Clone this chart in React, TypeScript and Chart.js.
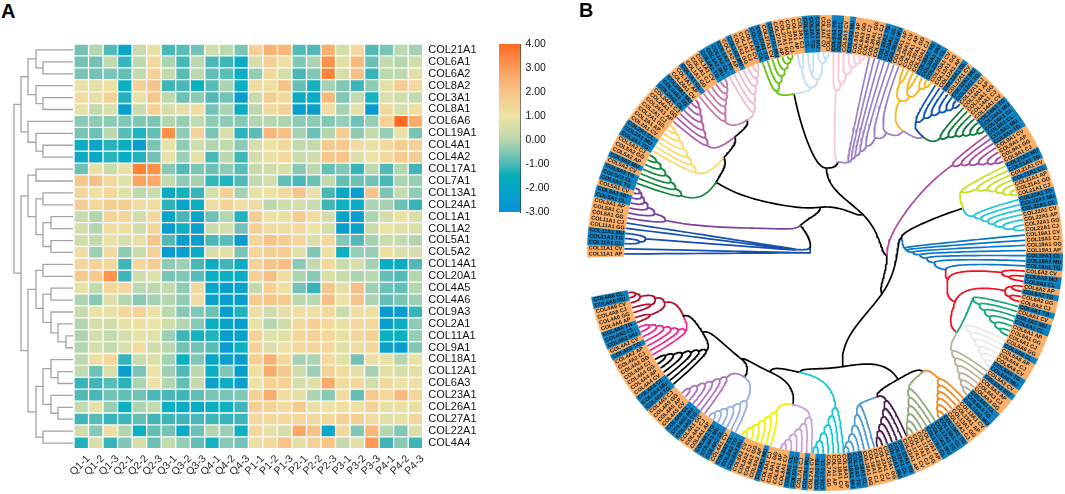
import React, { useEffect, useRef } from "react";
import { Chart, registerables } from "chart.js";
Chart.register(...registerables);

const FONT = "'Liberation Sans', Arial, sans-serif";
const samples = ["Q1-1","Q1-2","Q1-3","Q2-1","Q2-2","Q2-3","Q3-1","Q3-2","Q3-3","Q4-1","Q4-2","Q4-3","P1-1","P1-2","P1-3","P2-1","P2-2","P2-3","P3-1","P3-2","P3-3","P4-1","P4-2","P4-3"];
const genes = ["COL21A1","COL6A1","COL6A2","COL8A2","COL3A1","COL8A1","COL6A6","COL19A1","COL4A1","COL4A2","COL17A1","COL7A1","COL13A1","COL24A1","COL1A1","COL1A2","COL5A1","COL5A2","COL14A1","COL20A1","COL4A5","COL4A6","COL9A3","COL2A1","COL11A1","COL9A1","COL18A1","COL12A1","COL6A3","COL23A1","COL26A1","COL27A1","COL22A1","COL4A4"];

const qValues = [
[-1.2,-0.3,-1.6,-2.6,0.0,0.6,-1.7,-1.5,-1.2,0.1,-0.2,-1.1],
[-1.2,-1.2,-0.1,-1.9,-0.2,1.2,-0.4,-1.7,-0.2,-1.7,-1.8,-2.5],
[-1.1,-1.2,-1.1,-1.4,-0.1,1.4,-0.1,-1.5,-0.2,-1.4,-1.5,-2.4],
[0.6,0.5,0.8,-2.3,1.4,1.9,-1.8,-1.7,-2.3,-1.5,-0.4,-2.3],
[1.0,0.6,1.4,-2.1,0.6,1.8,-0.2,-1.3,-0.8,-1.6,-1.2,-2.9],
[0.6,-0.1,0.3,-2.9,0.0,1.5,0.2,0.5,1.0,-1.2,-0.4,-2.4],
[-0.9,-0.8,-0.8,-1.0,-1.0,-1.1,-0.3,-0.7,-0.1,-0.8,-0.8,-0.9],
[-1.1,-1.3,-0.2,-1.5,-2.1,-1.4,3.2,-0.8,1.4,-1.1,0.3,-2.0],
[-2.4,-2.7,-2.0,-2.4,-2.9,-1.1,0.6,-0.8,0.1,-0.3,-0.1,-0.8],
[-2.5,-2.6,-2.0,-2.5,-2.1,-1.2,0.6,-0.6,0.6,-1.7,-0.2,-1.8],
[-1.3,0.6,0.0,0.6,3.5,3.2,-0.9,-1.6,-1.1,-1.3,-0.8,-1.5],
[1.8,2.0,1.2,0.4,2.8,2.7,-0.1,-0.8,-0.5,-1.9,-2.1,-1.6],
[1.3,0.8,1.3,0.4,-0.2,0.0,-2.5,-2.2,-1.9,0.2,1.4,-0.5],
[1.6,1.3,1.5,1.6,0.9,1.0,-2.0,-2.7,-2.4,1.0,1.4,0.9],
[0.0,-0.3,1.4,1.3,0.1,1.2,-2.7,-1.7,-2.7,-1.3,-0.3,-2.1],
[0.2,-0.3,1.0,0.9,0.1,1.3,-2.9,-2.3,-2.8,0.0,0.2,-1.2],
[0.1,-0.1,0.8,0.2,0.6,1.8,-1.6,-2.9,-2.9,-1.7,-1.5,-2.9],
[0.9,-0.6,1.2,-0.8,0.0,1.4,-3.0,-2.9,-2.5,0.2,0.5,-1.1],
[1.3,1.4,1.3,-1.8,1.3,1.6,-0.8,-0.6,-1.7,-2.4,-1.8,-2.4],
[1.7,1.7,3.1,-1.8,0.1,0.4,-1.1,-1.0,-1.5,-2.4,-2.3,-2.4],
[0.6,-0.1,1.3,1.2,-0.2,-0.2,-0.1,-0.8,1.1,-2.7,-2.9,-2.8],
[-0.4,-0.9,0.3,-0.3,-0.9,-0.5,-0.3,-0.8,1.0,-2.8,-2.9,-2.9],
[0.0,0.7,0.6,1.3,1.4,0.7,-0.2,-0.9,-1.0,-1.3,-2.9,-2.1],
[-0.3,0.2,0.1,0.6,0.8,0.7,0.1,-0.3,-0.9,-2.4,-2.7,-2.9],
[-0.4,0.2,-0.1,0.2,0.6,0.4,-0.6,-1.8,-2.2,-2.1,-2.9,-2.8],
[-0.3,0.2,-0.1,0.3,1.0,0.1,-0.2,-1.2,-1.2,-1.5,-3.0,-2.3],
[-0.2,0.9,1.3,-1.9,0.0,0.3,-0.5,-2.3,-1.0,-2.7,-2.8,-2.9],
[-0.1,-1.3,0.3,-2.9,-1.1,0.7,-0.6,-1.6,-0.2,-2.3,-1.0,-2.9],
[-1.9,-1.8,-1.5,-2.0,-0.4,0.7,-0.3,-1.4,-0.1,-2.8,-2.4,-2.8],
[-1.6,-1.7,-1.2,-1.4,-1.2,-1.7,-1.7,-1.8,-1.4,-1.1,-1.1,-1.0],
[-0.1,0.6,-0.7,-2.3,-0.4,-0.1,-2.3,-2.5,-2.5,-2.4,-2.3,-1.8],
[-1.8,-1.5,-1.9,-1.8,-1.4,-1.8,-1.8,-1.8,-1.7,-1.8,-1.9,-1.8],
[0.1,-0.9,1.0,-0.3,-2.3,-1.4,-1.2,-2.5,-1.3,-0.3,-0.6,-2.3],
[-2.1,0.3,-1.9,-1.0,0.2,-1.3,-0.1,-0.7,-1.4,-2.2,-0.9,-1.2],
];
const pValues = [
[1.5,2.4,2.3,-1.6,-1.6,2.5,0.2,1.2,-1.6,-1.1,-0.2,-0.5],
[0.2,1.5,0.8,-1.0,-0.4,3.2,0.5,2.2,-1.3,-0.1,-0.3,0.1],
[-0.7,1.2,0.2,-1.7,-1.0,3.4,0.2,2.0,-1.9,-0.2,-0.2,0.4],
[1.0,0.9,1.9,-1.4,-2.2,-0.5,-1.0,-1.8,-0.8,0.5,1.6,1.2],
[0.0,1.6,1.1,-2.4,-2.5,2.2,-1.0,-0.1,-2.2,0.3,0.1,-0.1],
[-0.2,1.1,1.4,-2.9,-2.9,1.0,-0.5,0.5,-3.0,1.2,0.2,1.0],
[-0.3,-0.3,-0.4,-0.8,-0.8,-1.0,-0.7,-1.3,-0.7,1.5,4.0,2.6],
[-1.5,2.3,2.0,-0.5,-1.3,-0.3,1.6,-0.8,-0.1,-0.7,0.6,-1.1],
[0.2,0.7,1.2,-0.1,-0.1,1.7,1.7,1.0,0.6,1.2,1.6,1.5],
[0.2,0.8,1.2,0.0,0.1,1.8,1.9,0.3,0.7,1.1,1.7,1.6],
[0.0,0.1,0.3,-0.9,-0.2,-1.4,-1.0,-1.9,-0.2,-1.6,-0.3,-1.8],
[-0.1,0.2,-1.4,-1.7,-1.3,-0.1,-1.4,-1.3,-1.2,-1.7,-0.4,-0.7],
[0.6,0.8,1.1,1.9,0.6,-1.7,-2.6,-2.9,1.9,-1.1,-0.1,-0.8],
[1.0,-0.2,0.1,0.2,0.0,-1.8,-2.3,-2.5,-0.4,-0.5,-1.3,-1.9],
[1.6,0.8,0.6,1.6,1.0,0.2,-2.7,-2.9,-0.4,0.2,0.8,0.3],
[1.5,1.0,1.0,1.2,0.7,0.2,-2.9,-2.8,0.0,0.7,0.4,0.3],
[1.3,2.0,1.6,1.3,0.3,1.2,-1.0,-1.6,-0.5,0.0,-0.1,-0.3],
[1.3,1.5,1.6,0.4,-1.0,0.9,-2.3,-0.7,-0.7,0.9,0.3,0.2],
[1.4,1.9,2.1,-0.9,-0.1,1.2,0.0,0.2,-0.5,-2.4,-2.4,-1.6],
[1.4,2.0,1.0,-0.4,-0.9,0.3,0.0,-0.4,-0.2,-1.4,-1.6,-0.3],
[-0.1,1.5,0.8,-1.2,-1.9,1.8,0.5,2.0,-0.6,-1.3,-1.4,-0.3],
[1.7,1.9,1.7,-0.2,-0.2,2.0,0.8,1.9,-0.4,-1.4,-1.1,-0.6],
[0.9,0.1,0.5,0.9,0.9,1.1,0.0,1.0,0.8,-3.0,-3.0,-1.9],
[0.8,-0.3,0.1,1.1,1.5,1.1,0.6,1.2,1.2,-2.9,-2.4,-0.8],
[1.4,0.4,0.5,1.3,1.4,1.3,0.6,1.3,1.5,-2.3,-2.3,-0.7],
[1.4,0.3,0.7,1.2,1.3,1.3,0.4,1.0,1.3,-2.8,-2.9,-1.0],
[1.5,2.4,1.2,-0.5,-0.4,1.2,0.5,-1.2,0.9,0.6,-0.3,0.7],
[0.9,2.6,1.8,0.1,-0.6,1.4,1.0,0.5,-0.5,0.5,0.2,0.5],
[0.7,1.5,1.5,0.2,0.4,2.6,1.0,1.3,0.1,1.1,0.7,0.8],
[1.4,2.5,0.9,0.5,-0.4,-0.9,1.0,-1.4,1.7,1.2,2.2,1.3],
[1.5,1.4,1.0,1.7,0.6,0.7,0.8,0.8,1.4,0.5,0.6,0.6],
[1.2,1.2,1.2,1.2,1.2,1.2,1.4,1.5,1.0,0.4,0.6,1.3],
[1.2,0.5,0.2,2.7,2.0,-2.6,1.2,-1.0,2.3,-0.3,-1.0,0.3],
[0.6,1.2,1.9,0.5,1.4,1.9,-0.1,0.5,3.0,-1.8,-0.9,-1.8],
];

// colour of the cells as read from them, and colour of the legend bar
const cellStops = [-3,-2.3,-1.8,-1.3,-0.7,-0.2,0.2,0.7,1.3,2,2.7,3.3,4];
const cellColors = ["#0a9bd0","#0cb0c0","#40b5b8","#6cc0b5","#95cdb5","#bcd8ae","#d5deaa","#ece2a5","#f4d59a","#f6c186","#fba765","#fd8a40","#fe6a20"];
const barStops = [-3,-2,-1.5,-1,0,0.5,1,2,3,4];
const barColors = ["#0a90d6","#05a6c6","#04adb8","#4cb9b5","#b6d6ae","#d6deaa","#efe3a4","#f5c488","#fb9a5a","#ff6a1e"];
const colorbarTicks = [-3,-2,-1,0,1,2,3,4];

// left dendrogram: [member, member, distance from the leaves]; a plain number is a row
const rowGroup1 = [[[0,[1,2,30],37],[3,[4,5,30],37],45],[6,[7,[8,9,30],37],45],52];
const rowGroup2 = [[10,11,37],[[12,13,30],[[14,15,22],[16,17,22],30],37],45];
const rowGroup3 = [[18,19,30],[[20,21,22],[22,[23,[24,25,7],15],22],30],37];
const rowGroup4 = [[[26,[27,28,15],22],[29,[30,31,15],22],30],[32,33,30],37];
const rowRoot = [rowGroup1,[rowGroup2,[rowGroup3,rowGroup4,45],52],59];

// ring, clockwise from the left end
const ringGenes = ["COL11A1","COL5A1","COL5A2","COL2A1","COL24A1","COL1A1","COL1A2","COL27A1","COL3A1","COL9A3","COL26A1","COL20A1","COL12A1","COL14A1","COL9A1","COL21A1","COL22A1","COL19A1","COL6A2","COL6A1","COL6A6","COL6A3","COL13A1","COL17A1","COL23A1","COL18A1","COL7A1","COL8A1","COL8A2","COL4A1","COL4A5","COL4A4","COL4A2","COL4A6"];
const ringTissues = ["AP CV CL TG MU GG CJ","GG CJ AP CL MU CV TG","CL TG CV MU AP GG CJ","TG MU CL CV AP GG CJ","AP GG CJ CL TG MU CV","AP CL GG CJ CV TG MU","CL TG AP MU GG CJ CV","CL TG CV MU AP GG CJ","AP CJ CL TG MU CV GG","TG CL CV MU AP GG CJ","GG CJ TG CL MU AP CV","AP GG CJ TG MU CL CV","GG AP CL CV MU TG CJ","AP GG CJ CV TG MU CL","CL MU TG CV AP GG CJ","MU TG CV CL AP GG CJ","TG MU CL CV AP GG CJ","CV CJ GG AP CL MU TG","CV MU CL AP TG GG CJ","TG CV MU CL AP GG CJ","GG CL AP CJ CV TG MU","CV MU AP CJ GG CL TG","MU CV AP GG CJ TG CL","TG MU CL AP GG CJ CV","AP TG CL MU GG CJ CV","CJ GG CL TG MU AP CV","AP GG CL TG CV MU CJ","TG CL CV AP GG CJ MU","AP GG CJ CV MU TG CL","CV CL MU TG AP CJ GG","TG MU CL CV AP GG CJ","TG MU CL CV AP GG CJ","GG CJ AP TG CV MU CL","TG AP GG CJ CV MU CL"];
const blueTissues = ["CL","MU","TG"];
const ringOrange = "#fbae66";
const ringBlue = "#0c7fc0";
const cladeColors = ["#1650ac","#7b3fa0","#128a3e","#fdd765","#b05aa8","#c67aa8","#efbcc8","#6cc01a","#c4dff2","#f9c9d2","#9b80c8","#f5b81a","#1254b4","#107a3c","#a84aa0","#c8e020","#22c6d6","#0a78c8","#f01020","#18a878","#e8e8e8","#b8b098","#f08820","#90a878","#4a1a4a","#5098d0","#10c8d0","#c8a0d8","#f0f000","#98b0e0","#b070c0","#000000","#f02890","#b01030"];
const cladeShift = [0,0,0,0,0,0,0,0,0,0,0,0,0,0,0,0,0,0,0,0,0,0,0,0,-1,-1.5,-3,-4,-2.5,-2,-2,0,0,0];
// radii of a clade's merges, root first
const cladeRadii: Record<number, number[]> = {
1:[163,175,183,188,192,195],2:[155,163,170,178,185,192],3:[153,161,169,177,185,192],4:[160,167,174,181,187,193],
5:[166,172,178,183,188,193],6:[158,166,174,181,188,194],7:[169,176,182,188,193,197],8:[166,174,180,186,190,195],
9:[163,170,180,188,192,196],11:[170,178,184,186,190,194],12:[160,168,175,182,188,194],13:[163,170,176,182,188,194],
14:[155,163,170,178,186,193],15:[150,165,175,182,188,195],16:[154,160,166,172,180,190],19:[155,163,170,177,184,191],
20:[159,167,174,181,187,193],21:[161,168,175,181,187,193],22:[170,175,180,185,190,195],23:[160,168,175,182,188,194],
24:[160,167,174,180,186,192],25:[156,165,175,183,190,195],26:[155,163,172,180,188,194],27:[165,172,178,184,190,195],
28:[167,173,179,185,190,195],29:[168,174,180,185,190,195],30:[159,165,172,178,185,192],31:[154,160,167,175,183,190],
32:[160,166,172,178,184,190],33:[168,176,182,186,190,194],
};
const balancedClades = [8,11,33];
const lavenderRadii = [94,98,102,108,115,126,135];
const blueStemRadii = [80,82,88,95,102,110,122];
// backbone nodes: [angle clockwise from the left in degrees, radius]
const backbone: Record<string, [number, number]> = {
U1:[20,16],U2:[48,37],U3:[84,46],U4:[134,54],U5:[91,85],U6:[79,162],U7:[98,92],Nd:[33,130],Nc:[43,139],Nb:[52,147],Na:[59.6,154],
T1:[130,152],T2:[122.6,145],V1:[169,78],V2:[162,145],W1:[182,62],W2:[215,70],W3:[261,115],
RED0:[192,126],G3:[200.6,139],G4:[211,154],Q1:[240,146],Q2:[230.5,154],Q3:[250,153],
Z1:[336,155],Z2:[327,146],Z3:[308,135],Z4:[303,148],Z5:[295,131],Z6:[282,155],Z7:[282,122],
};

const ringStart = -1;
const ringSweep = 350.3;
const LEAF_R = 200;

function stopColor(stops: number[], colors: string[], v: number) {
  let i = 0;
  while (i < stops.length - 2 && v > stops[i + 1]) i++;
  const t = Math.min(1, Math.max(0, (v - stops[i]) / (stops[i + 1] - stops[i])));
  const c = (h: string, s: number) => parseInt(h.slice(s, s + 2), 16);
  const a = colors[i], b = colors[i + 1];
  const m = [1, 3, 5].map(s => Math.round(c(a, s) + (c(b, s) - c(a, s)) * t));
  return `rgb(${m[0]},${m[1]},${m[2]})`;
}

type P = { x: number; y: number };
type N = { t: number; r: number };

function buildRowTree(): P[] {
  const pts: P[] = [];
  const draw = (n: any): { y: number; d: number } => {
    if (typeof n === "number") return { y: n + 0.5, d: 0 };
    const a = draw(n[0]), b = draw(n[1]);
    pts.push({ x: a.d, y: a.y }, { x: n[2], y: a.y }, { x: n[2], y: b.y }, { x: b.d, y: b.y }, { x: NaN, y: NaN });
    return { y: (a.y + b.y) / 2, d: n[2] };
  };
  draw(rowRoot);
  return pts;
}

function polar(t: number, r: number): P {
  const a = (t * Math.PI) / 180;
  return { x: -r * Math.cos(a), y: -r * Math.sin(a) };
}

function buildCircleTree() {
  const buckets: Record<string, P[]> = {};
  const link = (a: N, b: N, color: string) => {
    const o = a.r >= b.r ? a : b;
    const i = a.r >= b.r ? b : a;
    const list = (buckets[color] = buckets[color] || []);
    const t1 = o.t, r1 = o.r + (i.r - o.r) * 0.68;
    const t2 = o.t + (i.t - o.t) * 0.38, r2 = i.r;
    for (let s = 0; s <= 28; s++) {
      const u = s / 28, v = 1 - u;
      const t = v * v * v * o.t + 3 * v * v * u * t1 + 3 * v * u * u * t2 + u * u * u * i.t;
      const r = v * v * v * o.r + 3 * v * v * u * r1 + 3 * v * u * u * r2 + u * u * u * i.r;
      list.push(polar(t, r));
    }
    list.push({ x: NaN, y: NaN });
  };
  const join = (a: N, b: N, r: number, ca: string, cb = ca): N => {
    const n = { t: (a.t + b.t) / 2, r };
    link(a, n, ca);
    link(b, n, cb);
    return n;
  };
  const step = ringSweep / 34;
  const leaf = (k: number, i: number): N => ({ t: ringStart + (k + (i + 0.5) / 7) * step + cladeShift[k], r: LEAF_R });
  const ladder = (k: number): N => {
    const c = cladeColors[k], R = cladeRadii[k];
    let n = join(leaf(k, 5), leaf(k, 6), R[5], c);
    for (let i = 4; i >= 0; i--) n = join(leaf(k, i), n, R[i], c);
    return n;
  };
  const balanced = (k: number): N => {
    const c = cladeColors[k], R = cladeRadii[k];
    const a = join(leaf(k, 0), leaf(k, 1), R[3], c);
    const b = join(leaf(k, 2), leaf(k, 3), R[2], c);
    const d = join(leaf(k, 5), leaf(k, 6), R[5], c);
    const e = join(leaf(k, 4), d, R[4], c);
    return join(a, join(b, e, R[1], c), R[0], c);
  };
  const roots: Record<number, N> = {};
  Object.keys(cladeRadii).forEach(s => {
    const k = +s;
    roots[k] = balancedClades.includes(k) ? balanced(k) : ladder(k);
  });
  const node = (id: string): N => ({ t: backbone[id][0], r: backbone[id][1] });
  const black = "#000000";
  const attach = (child: N, parent: string, c = black) => link(child, node(parent), c);

  // COL11A1 clade
  const nv = cladeColors[0];
  const na = join(leaf(0, 0), leaf(0, 1), 15, nv);
  let nb = join(leaf(0, 2), leaf(0, 3), 186, nv);
  nb = join(nb, leaf(0, 4), 180, nv);
  nb = join(nb, leaf(0, 5), 32, nv);
  nb = join(nb, leaf(0, 6), 29, nv);
  link(na, node("U1"), nv);
  link(nb, node("U1"), nv);

  attach(node("U1"), "U2");
  attach(roots[1], "U2", cladeColors[1]);
  attach(node("U2"), "U3");
  attach(node("Nd"), "U3");
  attach(roots[2], "Nd", cladeColors[2]);
  attach(node("Nc"), "Nd");
  attach(roots[3], "Nc", cladeColors[3]);
  attach(node("Nb"), "Nc");
  attach(roots[4], "Nb", cladeColors[4]);
  attach(node("Na"), "Nb");
  attach(roots[5], "Na", cladeColors[5]);
  attach(roots[6], "Na", cladeColors[6]);
  attach(roots[7], "U6", cladeColors[7]);
  attach(roots[8], "U6", cladeColors[8]);
  attach(node("U6"), "U5");
  attach(roots[9], "U7", cladeColors[9]);
  attach(node("U7"), "U5");
  attach(node("U5"), "U4");
  attach(node("U3"), "U4");

  // clade with a nested gold / blue / green group
  attach(roots[12], "T1", cladeColors[12]);
  attach(roots[13], "T1", cladeColors[13]);
  const lav = cladeColors[10];
  attach(node("T1"), "T2", lav);
  attach(roots[11], "T2", cladeColors[11]);
  let lv = join(leaf(10, 6), node("T2"), lavenderRadii[6], lav);
  for (let i = 5; i >= 0; i--) lv = join(leaf(10, i), lv, lavenderRadii[i], lav);
  attach(lv, "U7", lav);

  attach(node("U4"), "W1");
  attach(roots[14], "W1", cladeColors[14]);
  attach(roots[15], "V2", cladeColors[15]);
  attach(roots[16], "V2", cladeColors[16]);
  attach(node("V2"), "V1");

  // red / teal / pale group hanging off the blue ladder
  const rd = cladeColors[18];
  const r0 = join(leaf(18, 0), join(leaf(18, 1), leaf(18, 2), 186, rd), 178, rd);
  const r1 = join(join(leaf(18, 3), leaf(18, 4), 190, rd), join(leaf(18, 5), leaf(18, 6), 190, rd), 184, rd);
  attach(r0, "RED0", rd);
  attach(r1, "G3", rd);
  attach(node("G3"), "RED0", rd);
  attach(node("G4"), "G3", rd);
  attach(roots[19], "G4", cladeColors[19]);
  attach(roots[20], "G4", cladeColors[20]);
  attach(roots[21], "G4", cladeColors[21]);
  const bl = cladeColors[17];
  let bs = join(leaf(17, 6), node("RED0"), blueStemRadii[6], bl, rd);
  for (let i = 5; i >= 0; i--) bs = join(leaf(17, i), bs, blueStemRadii[i], bl);
  attach(bs, "V1", bl);

  attach(node("V1"), "W2");
  attach(node("W1"), "W2");
  attach(node("W2"), "W3");
  attach(roots[22], "Q2", cladeColors[22]);
  attach(roots[23], "Q2", cladeColors[23]);
  attach(roots[24], "Q3", cladeColors[24]);
  attach(roots[25], "Q3", cladeColors[25]);
  attach(node("Q2"), "Q1");
  attach(node("Q3"), "Q1");
  attach(node("Q1"), "W3");
  attach(node("Z7"), "W3");
  attach(roots[26], "Z7", cladeColors[26]);
  attach(node("Z5"), "Z7");
  attach(node("Z6"), "Z5");
  attach(roots[27], "Z6", cladeColors[27]);
  attach(roots[28], "Z6", cladeColors[28]);
  attach(node("Z3"), "Z5");
  attach(node("Z4"), "Z3");
  attach(roots[29], "Z4", cladeColors[29]);
  attach(roots[30], "Z4", cladeColors[30]);
  attach(node("Z2"), "Z3");
  attach(roots[31], "Z2", cladeColors[31]);
  attach(node("Z1"), "Z2");
  attach(roots[32], "Z1", cladeColors[32]);
  attach(roots[33], "Z1", cladeColors[33]);
  return buckets;
}

const noPlugins = { legend: { display: false }, tooltip: { enabled: false } };

export default function App() {
  const heatRef = useRef<HTMLCanvasElement>(null);
  const rowRef = useRef<HTMLCanvasElement>(null);
  const barRef = useRef<HTMLCanvasElement>(null);
  const ringRef = useRef<HTMLCanvasElement>(null);
  const treeRef = useRef<HTMLCanvasElement>(null);

  useEffect(() => {
    const charts: Chart[] = [];
    const matrix = genes.map((_, i) => [...qValues[i], ...pValues[i]]);

    charts.push(new Chart(heatRef.current!, {
      type: "bar",
      data: {
        labels: samples,
        datasets: genes.map((g, i) => ({
          label: g,
          data: samples.map(() => 1),
          backgroundColor: matrix[i].map(v => stopColor(cellStops, cellColors, v)),
          borderColor: "#ffffff",
          borderWidth: 0.65,
          borderSkipped: false,
          inflateAmount: 0,
          barPercentage: 1,
          categoryPercentage: 1,
        })),
      },
      options: {
        responsive: false, animation: false,
        layout: { padding: { left: 14, top: 8, right: 0, bottom: 0 } },
        plugins: noPlugins,
        scales: {
          x: {
            stacked: true,
            grid: { display: false, drawTicks: false }, border: { display: false },
            afterFit: (s: any) => { s.height = 37.3; s.paddingLeft = 0; s.paddingRight = 0; },
            ticks: { autoSkip: false, minRotation: 45, maxRotation: 45, padding: 4, labelOffset: 7, color: "#222", font: { family: FONT, size: 10.5 } },
          },
          y: {
            stacked: true, reverse: true, position: "right", min: 0, max: genes.length,
            grid: { display: false, drawTicks: false }, border: { display: false },
            afterBuildTicks: (s: any) => { s.ticks = genes.map((_, i) => ({ value: i + 0.5 })); },
            afterFit: (s: any) => { s.width = 67.3; s.paddingTop = 0; s.paddingBottom = 0; },
            ticks: { autoSkip: false, padding: 5.5, color: "#111", font: { family: FONT, size: 11 }, callback: (_v: any, i: number) => genes[i] },
          },
        },
      },
    } as any));

    charts.push(new Chart(rowRef.current!, {
      type: "scatter",
      data: { datasets: [{ data: buildRowTree(), showLine: true, borderColor: "#a3a3a3", borderWidth: 1.3, pointRadius: 0, spanGaps: false, tension: 0 }] },
      options: {
        responsive: false, animation: false, plugins: noPlugins,
        layout: { padding: 0 },
        scales: {
          x: { type: "linear", reverse: true, min: -1, max: 63, display: false },
          y: { type: "linear", reverse: true, min: 0, max: genes.length, display: false },
        },
      },
    } as any));

    charts.push(new Chart(barRef.current!, {
      type: "bar",
      data: {
        labels: [""],
        datasets: [{
          data: [[barStops[0], barStops[barStops.length - 1]]],
          barPercentage: 1, categoryPercentage: 1, borderWidth: 0,
          backgroundColor: (c: any) => {
            const a = c.chart.chartArea;
            if (!a) return "#ccc";
            const g = c.chart.ctx.createLinearGradient(0, a.bottom, 0, a.top);
            const lo = barStops[0], hi = barStops[barStops.length - 1];
            barStops.forEach((v, i) => g.addColorStop((v - lo) / (hi - lo), barColors[i]));
            return g;
          },
        }],
      },
      options: {
        responsive: false, animation: false, plugins: noPlugins,
        layout: { padding: { top: 8, bottom: 8, left: 0, right: 0 } },
        scales: {
          x: { display: false },
          y: {
            position: "right", min: -3, max: 4,
            grid: { display: false, drawOnChartArea: false, drawTicks: true, tickLength: 3, tickColor: "#333", tickWidth: 1 },
            border: { display: true, color: "#333", width: 1 },
            afterBuildTicks: (s: any) => { s.ticks = colorbarTicks.map(v => ({ value: v })); },
            afterFit: (s: any) => { s.width = 38.5; s.paddingTop = 0; s.paddingBottom = 0; },
            ticks: { padding: 2, color: "#111", font: { family: FONT, size: 10.5 }, callback: (v: any) => Number(v).toFixed(2) },
          },
        },
      },
    } as any));

    const ringLabels: string[] = [];
    ringGenes.forEach((g, k) => ringTissues[k].split(" ").forEach(t => ringLabels.push(`${g} ${t}`)));
    const ringFill = ringLabels.map(l => (blueTissues.includes(l.split(" ")[1]) ? ringBlue : ringOrange));

    const ringText = {
      id: "ringText",
      afterDatasetsDraw(chart: any) {
        const ctx = chart.ctx;
        ctx.save();
        ctx.font = `bold 5.5px ${FONT}`;
        ctx.fillStyle = "#151515";
        ctx.textBaseline = "middle";
        ctx.textAlign = "left";
        chart.getDatasetMeta(0).data.forEach((arc: any, i: number) => {
          const a = (arc.startAngle + arc.endAngle) / 2;
          ctx.save();
          ctx.translate(arc.x, arc.y);
          if (Math.cos(a) >= 0) {
            ctx.rotate(a);
            ctx.fillText(ringLabels[i], arc.innerRadius + 1, 0);
          } else {
            ctx.rotate(a + Math.PI);
            ctx.fillText(ringLabels[i], -arc.outerRadius + 1.5, 0);
          }
          ctx.restore();
        });
        ctx.restore();
      },
    };

    charts.push(new Chart(ringRef.current!, {
      type: "doughnut",
      data: { labels: ringLabels, datasets: [{ data: ringLabels.map(() => 1), backgroundColor: ringFill, borderColor: ringFill, borderWidth: 0.3 }] },
      options: {
        responsive: false, animation: false, plugins: noPlugins,
        layout: { padding: 0 },
        rotation: ringStart - 90, circumference: ringSweep, cutout: "84.5%",
      },
      plugins: [ringText],
    } as any));

    const buckets = buildCircleTree();
    charts.push(new Chart(treeRef.current!, {
      type: "scatter",
      data: {
        datasets: Object.keys(buckets).map(c => ({
          data: buckets[c], showLine: true, borderColor: c, borderWidth: 1.7, pointRadius: 0, spanGaps: false, tension: 0,
          borderCapStyle: "round", borderJoinStyle: "round",
        })),
      },
      options: {
        responsive: false, animation: false, plugins: noPlugins,
        layout: { padding: 0 },
        scales: {
          x: { type: "linear", min: -238, max: 238, display: false },
          y: { type: "linear", reverse: true, min: -238, max: 238, display: false },
        },
      },
    } as any));

    return () => charts.forEach(c => c.destroy());
  }, []);

  const abs = (left: number, top: number): React.CSSProperties => ({ position: "absolute", left, top, display: "block" });
  const letter: React.CSSProperties = { position: "absolute", font: `bold 20px ${FONT}`, color: "#000", lineHeight: "20px" };
  return (
    <div style={{ position: "fixed", left: 0, top: 0, width: 1065, height: 494, background: "#fff", overflow: "hidden" }}>
      <canvas ref={rowRef} width={64} height={405} style={abs(10, 44)} />
      <canvas ref={heatRef} width={430} height={450} style={abs(60, 36)} />
      <canvas ref={barRef} width={60} height={184} style={abs(499, 36)} />
      <canvas ref={ringRef} width={476} height={476} style={abs(587, 15)} />
      <canvas ref={treeRef} width={476} height={476} style={abs(587, 15)} />
      <div style={{ ...letter, left: 1, top: 1 }}>A</div>
      <div style={{ ...letter, left: 579, top: 0 }}>B</div>
    </div>
  );
}
